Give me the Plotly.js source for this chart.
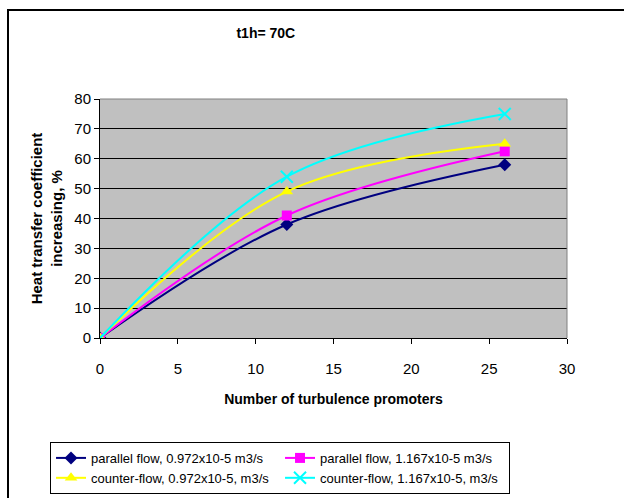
<!DOCTYPE html>
<html><head><meta charset="utf-8">
<script src="https://cdn.plot.ly/plotly-3.0.1.min.js"></script>
<style>body{margin:0;background:#fff}#c{width:624px;height:498px}#f{position:absolute;left:7px;top:9px;width:640px;height:520px;border-left:2px solid #000;border-top:2px solid #000;pointer-events:none}</style>
</head><body><div id="c"></div><div id="f"></div>
<script>
const promoters = [0, 12, 26];
const parallel0972 = [0, 38, 58];
const parallel1167 = [0, 41, 62.5];
const counter0972 = [0, 49, 65];
const counter1167 = [0, 54, 75];
const names = ["parallel flow, 0.972x10-5 m3/s","parallel flow, 1.167x10-5 m3/s","counter-flow, 0.972x10-5, m3/s","counter-flow, 1.167x10-5, m3/s"];
const series = [parallel0972, parallel1167, counter0972, counter1167];
const colors = ["#000080","#FF00FF","#FFFF00","#00FFFF"];
const symbols = ["diamond","square","triangle-up","x-thin"];
const sizes = [10,10,11,12];
const traces = series.map((s,i)=>({
  x: promoters, y: s, name: names[i], type:'scatter', mode:'lines+markers',
  line:{color:colors[i], width:2, shape:'spline', smoothing:1},
  marker:{symbol:symbols[i], color:colors[i], size:sizes[i], line:{color:colors[i], width: i===3?2:0}}
}));
const F = 'Arial, "Liberation Sans", sans-serif';
const layout = {
  width:624, height:498, paper_bgcolor:'#fff', plot_bgcolor:'#C0C0C0',
  margin:{l:100, r:57, t:99, b:160, autoexpand:false},
  font:{family:F, color:'#000', size:15},
  title:{text:'<b>t1h= 70C</b>', font:{size:14, family:F}, xref:'container', yref:'container', x:0.426, xanchor:'center', y:0.934, yanchor:'middle'},
  xaxis:{range:[0,30], dtick:5, tick0:0, showgrid:false, zeroline:false, showline:true, linecolor:'#000', linewidth:1,
    ticks:'outside', ticklen:5, tickcolor:'#000', tickfont:{size:15}, ticklabelstandoff:12, automargin:false,
    title:{text:'<b>Number of turbulence promoters</b>', font:{size:14}, standoff:18}},
  yaxis:{range:[0,80], dtick:10, tick0:0, showgrid:true, gridcolor:'#000', gridwidth:1, zeroline:false, showline:true, linecolor:'#000', linewidth:1,
    ticks:'outside', ticklen:5, tickcolor:'#000', tickfont:{size:15}, automargin:false,
    title:{text:'<b>Heat transfer coefficient<br>increasing, %</b>', font:{size:15}, standoff:8}},
  shapes:[{type:'line', xref:'paper', yref:'paper', x0:1, x1:1, y0:0, y1:1, line:{color:'#808080', width:1}},
          {type:'line', xref:'paper', yref:'paper', x0:0, x1:1, y0:1, y1:1, line:{color:'#808080', width:1}}],
  showlegend:true,
  legend:{orientation:'h', x:-0.107, xanchor:'left', y:-0.435, yanchor:'top', bgcolor:'#fff', bordercolor:'#000', borderwidth:1,
    font:{size:13, family:F}, entrywidth:184, entrywidthmode:'pixels', traceorder:'normal', tracegroupgap:0, itemwidth:30, valign:'middle'}
};
Plotly.newPlot('c', traces, layout, {displayModeBar:false, staticPlot:true});
</script></body></html>
